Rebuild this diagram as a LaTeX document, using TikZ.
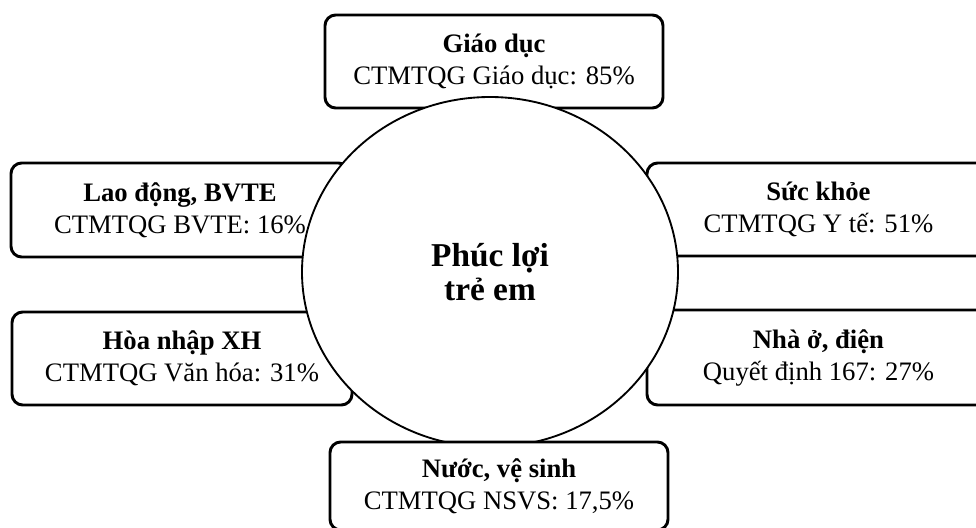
\documentclass[tikz,border=0pt]{standalone}
\usepackage{fontspec}
\setmainfont{Liberation Serif}
\usetikzlibrary{shapes.geometric}
\tikzset{
  linhvuc/.style={draw, line width=2.2pt, rounded corners=8pt, fill=white,
    inner sep=0pt, align=center, font=\fontsize{20}{24}\selectfont},
  trungtam/.style={ellipse, draw, line width=1.4pt, fill=white, inner sep=0pt,
    minimum width=282pt, minimum height=262.5pt, align=center,
    font=\fontsize{25}{25}\selectfont\bfseries}
}
\begin{document}
\begin{tikzpicture}[x=0.75pt,y=-0.75pt]
\clip (0,0) rectangle (976,528);
\useasboundingbox (0,0) rectangle (976,528);
% cac linh vuc
\node [linhvuc, minimum width=253.5pt, minimum height=69.75pt] (giaoduc) at (494,61.5) {\textbf{Giáo dục}\\CTMTQG Giáo dục: 85\%};
\node [linhvuc, minimum width=253.5pt, minimum height=70.5pt] (laodong) at (180,210) {\textbf{Lao động, BVTE}\\CTMTQG BVTE: 16\%};
\node [linhvuc, minimum width=255pt, minimum height=69.75pt] (hoanhap) at (182,358.5) {\textbf{Hòa nhập XH}\\CTMTQG Văn hóa: 31\%};
\node [linhvuc, minimum width=257.25pt, minimum height=69.75pt] (suckhoe) at (818.5,209.5) {\textbf{Sức khỏe}\\CTMTQG Y tế: 51\%};
\node [linhvuc, minimum width=257.25pt, minimum height=71.25pt] (nhao) at (818.5,357.5) {\textbf{Nhà ở, điện}\\Quyết định 167: 27\%};
% vong tron giua
\node [trungtam] (phucloi) at (490,272) {Phúc lợi\\trẻ em};
\node [linhvuc, minimum width=253.5pt, minimum height=66pt] (nuoc) at (499,486) {\textbf{Nước, vệ sinh}\\CTMTQG NSVS: 17,5\%};
\end{tikzpicture}
\end{document}
